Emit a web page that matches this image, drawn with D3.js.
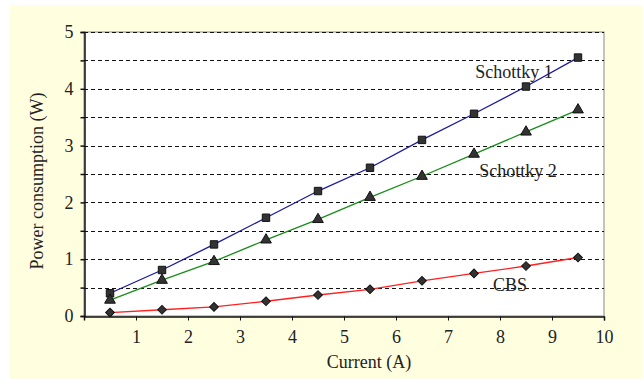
<!DOCTYPE html>
<html>
<head>
<meta charset="utf-8">
<script src="https://cdn.jsdelivr.net/npm/d3@7"></script>
<style>
  html, body { margin: 0; padding: 0; background: #ffffff; }
  svg { display: block; }
  svg text { font-family: "Liberation Serif", "Times New Roman", "DejaVu Serif", serif; fill: #222; }
</style>
</head>
<body>
<svg id="chart" width="643" height="379"></svg>
<script>
// Measured power consumption versus current for three rectifier types
const currents = [0.5, 1.5, 2.5, 3.5, 4.5, 5.5, 6.5, 7.5, 8.5, 9.5];
const schottky1 = [0.40, 0.81, 1.26, 1.73, 2.20, 2.61, 3.10, 3.56, 4.04, 4.55];
const schottky2 = [0.28, 0.63, 0.96, 1.34, 1.70, 2.09, 2.46, 2.85, 3.24, 3.63];
const cbs = [0.06, 0.11, 0.16, 0.26, 0.37, 0.47, 0.62, 0.75, 0.88, 1.03];
const xTicks = [1, 2, 3, 4, 5, 6, 7, 8, 9, 10];
const gridLevels = [0.5, 1, 1.5, 2, 2.5, 3, 3.5, 4, 4.5, 5];

const series = [
  { name: "Schottky 1", values: schottky1, color: "#1a1a9c", symbol: d3.symbolSquare, size: 55, rot: 0, label: [514, 72] },
  { name: "Schottky 2", values: schottky2, color: "#1a8c1a", symbol: d3.symbolTriangle, size: 50, rot: 0, label: [518, 171] },
  { name: "CBS", values: cbs, color: "#ff2020", symbol: d3.symbolSquare, size: 38, rot: 45, label: [510, 285] }
];

const svg = d3.select("#chart");
const W = 643, H = 379;
const plot = { left: 84, top: 32, right: 604, bottom: 316 };
const FONT = "18px";

// Pale yellow backdrop
svg.append("rect").attr("x", 10).attr("y", 5).attr("width", W - 10).attr("height", H - 5)
  .attr("fill", "#ffffe0");

const x = d3.scaleLinear().domain([0, 10]).range([plot.left, plot.right]);
const y = d3.scaleLinear().domain([0, 5]).range([plot.bottom, plot.top]);

// Plot area
svg.append("rect")
  .attr("x", plot.left).attr("y", plot.top)
  .attr("width", plot.right - plot.left).attr("height", plot.bottom - plot.top)
  .attr("fill", "#ffffff").attr("stroke", "#888").attr("stroke-width", 1);

// Dashed horizontal gridlines
svg.append("g").selectAll("line").data(gridLevels).join("line")
  .attr("x1", plot.left).attr("x2", plot.right)
  .attr("y1", d => Math.round(y(d)) + 0.5).attr("y2", d => Math.round(y(d)) + 0.5)
  .attr("stroke", "#111").attr("stroke-width", 1).attr("stroke-dasharray", "4,3");

// Y axis with major and half-step ticks
const yAxis = d3.axisLeft(y).tickValues(gridLevels.concat([0])).tickSize(4)
  .tickFormat(d => Number.isInteger(d) ? d : "");
const gy = svg.append("g").attr("transform", `translate(${plot.left + 0.5},0)`).call(yAxis);
gy.select(".domain").attr("stroke", "#111").attr("stroke-width", 1.5);
gy.selectAll(".tick line").attr("stroke", "#111").attr("stroke-width", 1.5);
gy.selectAll(".tick text").style("font-size", FONT).attr("x", -11);

// X axis
const xAxis = d3.axisBottom(x).tickValues(xTicks).tickSize(4).tickFormat(d3.format("d"));
const gx = svg.append("g").attr("transform", `translate(0,${plot.bottom + 0.5})`).call(xAxis);
gx.select(".domain").attr("stroke", "#111").attr("stroke-width", 1.5);
gx.selectAll(".tick line").attr("stroke", "#111");
gx.selectAll(".tick text").style("font-size", FONT).attr("dy", "1.1em");

// Series lines and markers
const line = d3.line().x((d, i) => x(currents[i])).y(d => y(d));
series.forEach(s => {
  svg.append("path").datum(s.values)
    .attr("d", line).attr("fill", "none")
    .attr("stroke", s.color).attr("stroke-width", 1.3);
  svg.append("g").selectAll("path").data(s.values).join("path")
    .attr("transform", (d, i) => `translate(${x(currents[i])},${y(d)}) rotate(${s.rot})`)
    .attr("d", d3.symbol().type(s.symbol).size(s.size))
    .attr("fill", "#333").attr("stroke", "#111").attr("stroke-width", 1);
  svg.append("text")
    .attr("x", s.label[0]).attr("y", s.label[1])
    .attr("text-anchor", "middle").attr("dominant-baseline", "central")
    .style("font-size", FONT).text(s.name);
});

// Axis titles
svg.append("text").attr("x", 369).attr("y", 362)
  .attr("text-anchor", "middle").attr("dominant-baseline", "central")
  .style("font-size", FONT).text("Current (A)");
svg.append("text")
  .attr("transform", "translate(37,181) rotate(-90)")
  .attr("text-anchor", "middle").attr("dominant-baseline", "central")
  .style("font-size", FONT).text("Power consumption (W)");
</script>
</body>
</html>
